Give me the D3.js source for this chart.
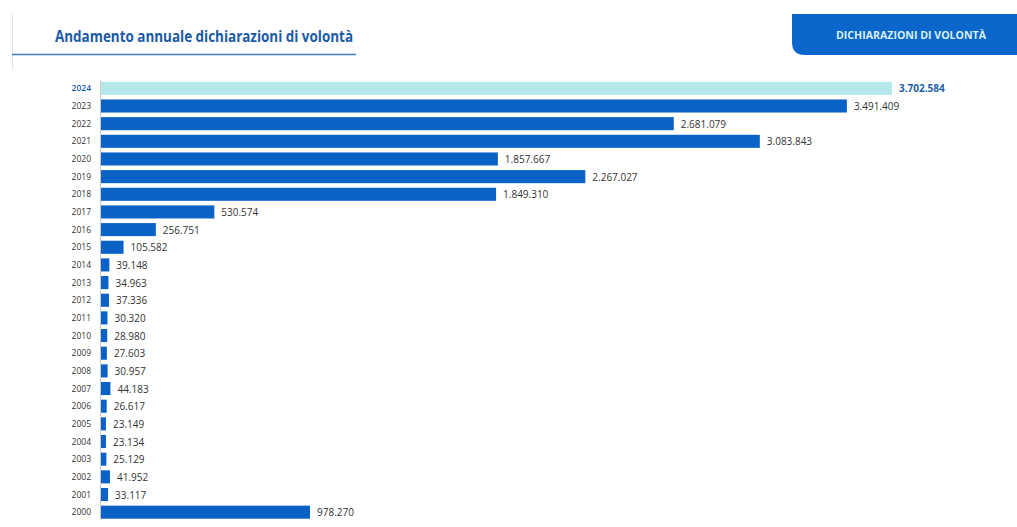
<!DOCTYPE html>
<html>
<head>
<meta charset="utf-8">
<script src="https://cdn.jsdelivr.net/npm/d3@7"></script>
<style>
  body { margin: 0; background: #fff; font-family: "Open Sans", "Noto Sans", sans-serif; }
</style>
</head>
<body>
<div class="chart"></div>
<script>
const years = ["2024","2023","2022","2021","2020","2019","2018","2017","2016","2015","2014","2013","2012",
  "2011","2010","2009","2008","2007","2006","2005","2004","2003","2002","2001","2000"];
const values = [3702584,3491409,2681079,3083843,1857667,2267027,1849310,530574,256751,105582,39148,34963,37336,
  30320,28980,27603,30957,44183,26617,23149,23134,25129,41952,33117,978270];
const highlightYear = "2024";

const width = 1017, height = 527;
const left = 101;

// format like 3.702.584
const fmt = d => d3.format(",")(d).replace(/,/g, ".");

const svg = d3.select(".chart").append("svg")
  .attr("width", width).attr("height", height);

// header: left faint border + title + underline
svg.append("line")
  .attr("x1", 12.5).attr("x2", 12.5).attr("y1", 14).attr("y2", 70)
  .attr("stroke", "#e4e4e4").attr("stroke-width", 1);

svg.append("text")
  .attr("x", 55).attr("y", 41.5)
  .attr("fill", "#1a5aa6")
  .attr("textLength", 298)
  .attr("lengthAdjust", "spacingAndGlyphs")
  .style("font", "bold 16px 'Open Sans', sans-serif")
  .text("Andamento annuale dichiarazioni di volontà");

svg.append("line")
  .attr("x1", 12).attr("x2", 356).attr("y1", 54.5).attr("y2", 54.5)
  .attr("stroke", "#3c7dbb").attr("stroke-width", 1.5);

// right tab
const tx = 792, ty = 14, tw = width - tx, th = 41, r = 13;
svg.append("path")
  .attr("d", `M${tx},${ty} H${tx + tw} V${ty + th} H${tx + r} Q${tx},${ty + th} ${tx},${ty + th - r} Z`)
  .attr("fill", "#0b66cc");

svg.append("text")
  .attr("x", 836).attr("y", ty + th / 2 + 4)
  .attr("fill", "#d8f1f5")
  .attr("textLength", 150)
  .attr("lengthAdjust", "spacingAndGlyphs")
  .style("font", "bold 11px 'Open Sans', sans-serif")
  .text("DICHIARAZIONI DI VOLONTÀ");

// scales
const x = d3.scaleLinear()
  .domain([0, d3.max(values)])
  .range([left, 892]);

const y = d3.scaleBand()
  .domain(years)
  .range([79.5, 521])
  .paddingInner(0.26)
  .paddingOuter(0.13);

const rows = years.map((yr, i) => ({ year: yr, value: values[i] }));

// axis line
svg.append("line")
  .attr("x1", 100.5).attr("x2", 100.5).attr("y1", 80).attr("y2", 520)
  .attr("stroke", "#c8c8c8").attr("stroke-width", 1);

// year labels
svg.append("g").selectAll("text")
  .data(rows).enter().append("text")
  .attr("x", 91)
  .attr("y", d => y(d.year) + y.bandwidth() / 2 + 3)
  .attr("text-anchor", "end")
  .attr("fill", d => d.year === highlightYear ? "#1c5fa9" : "#333")
  .style("font", d => (d.year === highlightYear ? "600 " : "") + "8.5px 'Open Sans', sans-serif")
  .text(d => d.year);

// bars
svg.append("g").selectAll("rect")
  .data(rows).enter().append("rect")
  .attr("x", x(0))
  .attr("y", d => y(d.year))
  .attr("width", d => x(d.value) - x(0))
  .attr("height", y.bandwidth())
  .attr("fill", d => d.year === highlightYear ? "#b4e8eb" : "#0b62c6");

// value labels
svg.append("g").selectAll("text")
  .data(rows).enter().append("text")
  .attr("x", d => x(d.value) + 7)
  .attr("y", d => y(d.year) + y.bandwidth() / 2 + 4)
  .attr("fill", d => d.year === highlightYear ? "#1c5fa9" : "#333")
  .style("font", d => (d.year === highlightYear ? "bold " : "") + "10px 'Open Sans', sans-serif")
  .text(d => fmt(d.value));
</script>
</body>
</html>
